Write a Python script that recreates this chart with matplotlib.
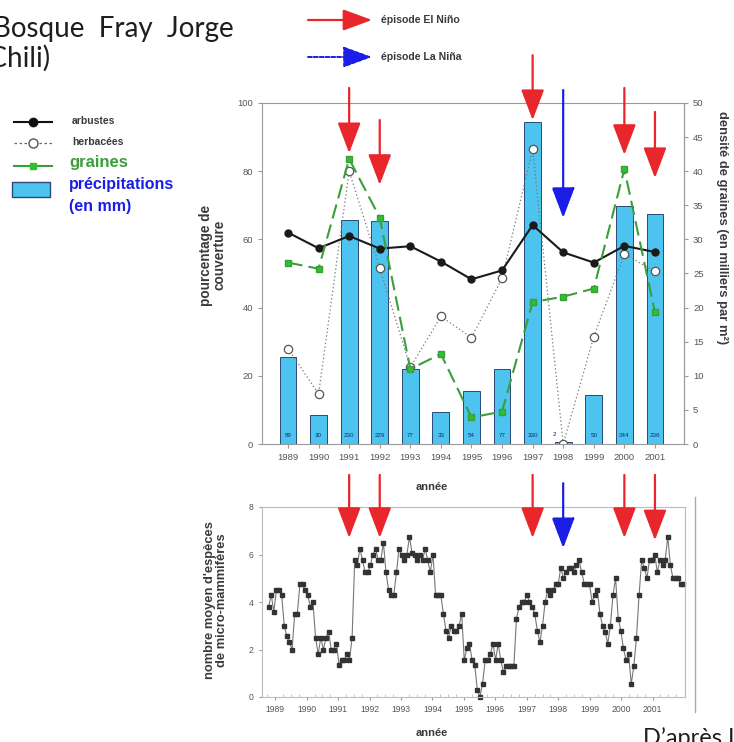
import numpy as np
import matplotlib.pyplot as plt
from matplotlib.lines import Line2D
from matplotlib.patches import Rectangle

# -----------------------------------------
# Données (Bosque Fray Jorge, Chili)
# -----------------------------------------
annees = list(range(1989, 2002))
arbustes = [62, 57.4, 61, 57.3, 58, 53.5, 48.3, 50.9, 64.2, 56.2, 53.2, 58.1, 56.3]
herbacees = [28, 14.7, 80, 51.6, 22.5, 37.4, 31.2, 48.6, 86.5, 0, 31.5, 55.7, 50.6]
graines = [26.6, 25.7, 41.8, 33.2, 11, 13.2, 3.9, 4.75, 20.8, 21.6, 22.8, 40.3, 19.3]
precipitations = [89, 30, 230, 229, 77, 33, 54, 77, 330, 2, 50, 244, 236]
el_nino = [1991, 1992, 1997, 2000, 2001]
la_nina = [1998]

# nombre moyen d'espèces de micro-mammifères (relevés successifs)
especes = [3.8, 4.3, 3.6, 4.5, 4.5, 4.3, 3.0, 2.55, 2.3, 2.0, 3.5, 3.5, 4.75, 4.75,
           4.5, 4.3, 3.8, 4.0, 2.5, 1.8, 2.5, 2.0, 2.5, 2.75, 2.0, 2.0, 2.25, 1.35,
           1.55, 1.55, 1.8, 1.55, 2.5, 5.75, 5.55, 6.25, 5.75, 5.25, 5.25, 5.55, 6.0,
           6.25, 5.75, 5.75, 6.5, 5.25, 4.5, 4.3, 4.3, 5.25, 6.25, 6.0, 5.75, 6.0,
           6.75, 6.05, 6.0, 5.75, 6.0, 5.75, 6.25, 5.75, 5.25, 6.0, 4.3, 4.3, 4.3,
           3.5, 2.8, 2.5, 3.0, 2.8, 2.8, 3.0, 3.5, 1.55, 2.05, 2.25, 1.55, 1.35, 0.3,
           0.0, 0.55, 1.55, 1.55, 1.8, 2.25, 1.55, 2.25, 1.55, 1.05, 1.3, 1.3, 1.3,
           1.3, 3.3, 3.8, 4.0, 4.0, 4.3, 4.0, 3.8, 3.5, 2.8, 2.3, 3.0, 4.0, 4.5, 4.3,
           4.5, 4.75, 4.75, 5.45, 5.0, 5.25, 5.45, 5.45, 5.25, 5.55, 5.75, 5.25, 4.75,
           4.75, 4.75, 4.0, 4.3, 4.5, 3.5, 3.0, 2.75, 2.25, 3.0, 4.3, 5.0, 3.3, 2.8,
           2.05, 1.55, 1.8, 0.55, 1.3, 2.5, 4.3, 5.75, 5.45, 5.0, 5.75, 5.75, 6.0,
           5.25, 5.75, 5.55, 5.75, 6.75, 5.55, 5.0, 5.0, 5.0, 4.75, 4.75]
debut_releves, fin_releves = 1988.79, 2001.98

ROUGE = "#e8262b"
BLEU = "#1a1ee6"
VERT = "#3a9f3a"
CYAN = "#4cc4ef"
GRIS = "#9a9a9a"
TXT = "#3a3a3a"
POLICE = ["Liberation Sans", "DejaVu Sans"]
POLICE_TITRE = ["Lato", "DejaVu Sans"]

plt.rcParams["font.family"] = POLICE

fig = plt.figure(figsize=(7.34, 7.42), dpi=100)
W, H = 734, 742


def boite(gauche, haut, droite, bas):
    return [gauche / W, 1 - bas / H, (droite - gauche) / W, (bas - haut) / H]


FLECHE = "-|>,head_width=0.36,head_length=0.95"

# -----------------------------------------
# Graphique du haut
# -----------------------------------------
ax_mm = fig.add_axes(boite(262, 103, 684, 444))
ax = fig.add_axes(boite(262, 103, 684, 444), sharex=ax_mm)
ax_gr = fig.add_axes(boite(262, 103, 684, 444), sharex=ax_mm)
ax.patch.set_visible(False)
ax_gr.patch.set_visible(False)
ax_mm.set_zorder(0)
ax.set_zorder(1)
ax_gr.set_zorder(2)

ax_mm.bar(annees, precipitations, width=0.55, color=CYAN, edgecolor="#2a4a78", linewidth=0.7)
ax_mm.set_ylim(0, 350)
ax_mm.axis("off")
for a, p in zip(annees, precipitations):
    if p < 10:
        ax_mm.text(a - 0.28, 10, str(p), ha="center", va="center", fontsize=4.5, color="#222")
    else:
        ax_mm.text(a, 9, str(p), ha="center", va="center", fontsize=4.5, color="#1a2a6a")

ax.plot(annees, herbacees, linestyle=(0, (1, 2)), color="#777", linewidth=0.9,
        marker="o", markersize=6, markerfacecolor="white", markeredgecolor="#555", markeredgewidth=0.9)
ax.plot(annees, arbustes, color="#1a1a1a", linewidth=1.5, marker="o", markersize=5)
ax.set_ylim(0, 100)
ax.set_xlim(1988.15, 2001.95)
ax.set_yticks(range(0, 101, 20))
ax.set_xticks(annees)

ax_gr.plot(annees, graines, color=VERT, linewidth=1.5, linestyle=(0, (7, 3)),
           marker="s", markersize=4.5, markerfacecolor="#2fc02f", markeredgecolor=VERT)
ax_gr.set_ylim(0, 50)
ax_gr.yaxis.tick_right()
ax_gr.set_yticks(range(0, 51, 5))
ax_gr.tick_params(axis="x", bottom=False, labelbottom=False)
for s in ["left", "top", "bottom"]:
    ax_gr.spines[s].set_visible(False)

for s in ax.spines.values():
    s.set_color(GRIS)
ax_gr.spines["right"].set_color(GRIS)
ax.tick_params(labelsize=6.8, labelcolor="#555", color=GRIS, length=3)
ax_gr.tick_params(labelsize=6.8, labelcolor="#555", color=GRIS, length=3)

# flèches El Niño / La Niña (haut)
fl_haut = {1991: (104.4, 85.3), 1992: (95, 76), 1997: (114, 95), 2000: (104.4, 84.8), 2001: (97.4, 78)}
for a in el_nino:
    d, f = fl_haut[a]
    ax_gr.annotate("", xy=(a, f / 2), xytext=(a, d / 2), annotation_clip=False,
                   arrowprops=dict(arrowstyle=FLECHE, color=ROUGE, lw=1.6,
                                   mutation_scale=20, shrinkA=0, shrinkB=0))
for a in la_nina:
    ax_gr.annotate("", xy=(a, 66.3 / 2), xytext=(a, 103.8 / 2), annotation_clip=False,
                   arrowprops=dict(arrowstyle=FLECHE, color=BLEU, lw=1.6, linestyle=(0, (1, 0.6)),
                                   mutation_scale=20, shrinkA=0, shrinkB=0))

# -----------------------------------------
# Graphique du bas
# -----------------------------------------
ax2 = fig.add_axes(boite(262, 507, 685, 697))
t = np.linspace(debut_releves, fin_releves, len(especes))
ax2.plot(t, especes, color="#777", linewidth=0.8, marker="s", markersize=2.3,
         markerfacecolor="#333", markeredgecolor="#333", clip_on=False)
ax2.set_ylim(0, 8)
ax2.set_xlim(1988.58, 2002.03)
ax2.set_yticks(range(0, 9, 2))
ax2.set_xticks(annees)
ax2.set_xticks(np.arange(1988.75, 2002, 0.25), minor=True)
ax2.tick_params(labelsize=6.2, labelcolor="#555", color=GRIS, length=2.5)
ax2.tick_params(axis="x", which="minor", direction="in", length=2, color="#bbb")
for s in ax2.spines.values():
    s.set_color("#bbb")

fl_bas = {1991: (9.35, 6.7), 1992: (9.35, 6.7), 1997: (9.35, 6.7), 2000: (9.35, 6.7), 2001: (9.35, 6.6)}
for a in el_nino:
    d, f = fl_bas[a]
    ax2.annotate("", xy=(a, f), xytext=(a, d), xycoords=(ax.transData, ax2.transData),
                 textcoords=(ax.transData, ax2.transData), annotation_clip=False,
                 arrowprops=dict(arrowstyle=FLECHE, color=ROUGE, lw=1.6,
                                 mutation_scale=20, shrinkA=0, shrinkB=0))
for a in la_nina:
    ax2.annotate("", xy=(a, 6.27), xytext=(a, 9.0), xycoords=(ax.transData, ax2.transData),
                 textcoords=(ax.transData, ax2.transData), annotation_clip=False,
                 arrowprops=dict(arrowstyle=FLECHE, color=BLEU, lw=1.6, linestyle=(0, (1, 0.6)),
                                 mutation_scale=20, shrinkA=0, shrinkB=0))

# -----------------------------------------
# Textes et légendes (coordonnées en pixels)
# -----------------------------------------
px = fig.add_axes([0, 0, 1, 1], zorder=5)
px.set_xlim(0, W)
px.set_ylim(H, 0)
px.axis("off")
px.patch.set_visible(False)

# titre et source coupés aux bords comme sur l'original
px.text(234, 37, "Bosque  Fray  Jorge", fontsize=20, family=POLICE_TITRE,
        va="baseline", ha="right", color="#1e1e1e")
px.text(51, 67, "(Chili)", fontsize=20, family=POLICE_TITRE,
        va="baseline", ha="right", color="#1e1e1e")
px.text(643, 745, "D’après Lima", fontsize=17, family=POLICE_TITRE,
        va="baseline", ha="left", color="#1e1e1e")

# légende du haut
px.annotate("", xy=(372, 20), xytext=(308, 20),
            arrowprops=dict(arrowstyle="-|>,head_width=0.33,head_length=0.9", color=ROUGE,
                            lw=1.6, mutation_scale=20, shrinkA=0, shrinkB=0))
px.annotate("", xy=(372, 57), xytext=(308, 57),
            arrowprops=dict(arrowstyle="-|>,head_width=0.33,head_length=0.9", color=BLEU,
                            lw=1.4, linestyle=(0, (2, 1)), mutation_scale=20, shrinkA=0, shrinkB=0))
px.text(381, 20, "épisode El Niño", fontsize=7.6, fontweight="bold", color=TXT, va="center")
px.text(381, 57, "épisode La Niña", fontsize=7.6, fontweight="bold", color=TXT, va="center")

# légende de gauche
px.add_line(Line2D([14, 52], [122, 122], color="#111", lw=1.5))
px.add_line(Line2D([33], [122], color="#111", marker="o", markersize=6))
px.add_line(Line2D([14, 52], [143, 143], color="#666", lw=0.9, linestyle=(0, (2, 2))))
px.add_line(Line2D([33], [143], marker="o", markersize=6.5, markerfacecolor="white",
                   markeredgecolor="#555", linestyle="none"))
px.add_line(Line2D([14, 52], [166, 166], color=VERT, lw=1.5))
px.add_line(Line2D([33], [166], marker="s", markersize=4.5, color="#2fc02f", linestyle="none"))
px.add_patch(Rectangle((12, 182), 38, 15, facecolor=CYAN, edgecolor="#2a4a78", lw=1))
px.text(72, 121, "arbustes", fontsize=7.5, fontweight="bold", color=TXT, va="center")
px.text(72, 142, "herbacées", fontsize=7.5, fontweight="bold", color=TXT, va="center")
px.text(69, 163, "graines", fontsize=12, fontweight="bold", color=VERT, va="center")
px.text(69, 185, "précipitations", fontsize=11.5, fontweight="bold", color=BLEU, va="center")
px.text(69, 206, "(en mm)", fontsize=11.5, fontweight="bold", color=BLEU, va="center")

# titres des axes
px.text(213, 255, "pourcentage de\ncouverture", rotation=90, fontsize=9.8, fontweight="bold",
        color=TXT, ha="center", va="center", linespacing=1.0)
px.text(722, 228, "densité de graines (en milliers par m²)", rotation=270, fontsize=9.4,
        fontweight="bold", color=TXT, ha="center", va="center")
px.text(216, 600, "nombre moyen d'espèces\nde micro-mammifères", rotation=90, fontsize=9.3,
        fontweight="bold", color=TXT, ha="center", va="center", linespacing=1.0)
px.text(432, 487, "année", fontsize=8, fontweight="bold", color=TXT, ha="center", va="center")
px.text(432, 733, "année", fontsize=8, fontweight="bold", color=TXT, ha="center", va="center")
px.add_line(Line2D([695, 695], [497, 712], color="#aaa", lw=1))

fig.savefig("out.png", dpi=100)
